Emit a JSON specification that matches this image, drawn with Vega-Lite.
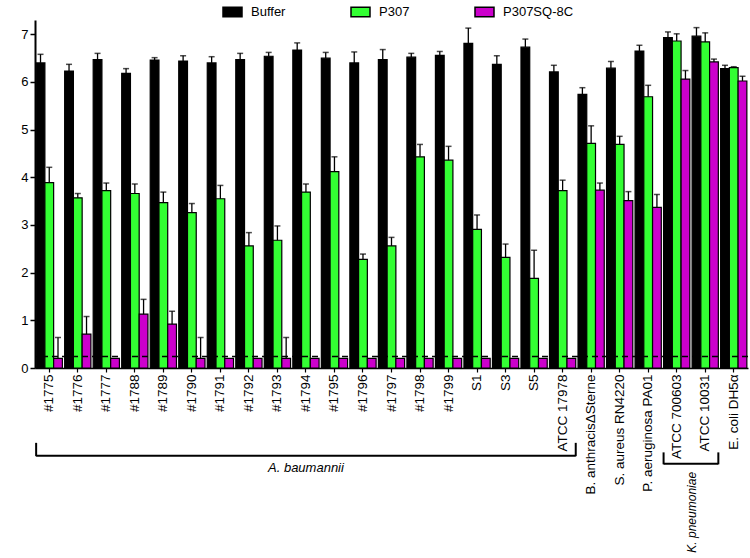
{
  "$schema": "https://vega.github.io/schema/vega-lite/v6.json",
  "width": 713,
  "height": 348,
  "autosize": {"type": "none"},
  "padding": {"left": 35, "top": 20, "right": 2, "bottom": 190},
  "config": {"view": {"stroke": null}, "font": "Liberation Sans"},
  "datasets": {
    "bars": [
      {"strain": "#1775", "group": "Buffer", "value": 6.40, "upper": 6.58},
      {"strain": "#1775", "group": "P307", "value": 3.89, "upper": 4.21},
      {"strain": "#1775", "group": "P307SQ-8C", "value": 0.2, "upper": 0.64},
      {"strain": "#1776", "group": "Buffer", "value": 6.23, "upper": 6.37},
      {"strain": "#1776", "group": "P307", "value": 3.57, "upper": 3.66},
      {"strain": "#1776", "group": "P307SQ-8C", "value": 0.71, "upper": 1.08},
      {"strain": "#1777", "group": "Buffer", "value": 6.47, "upper": 6.60},
      {"strain": "#1777", "group": "P307", "value": 3.72, "upper": 3.88},
      {"strain": "#1777", "group": "P307SQ-8C", "value": 0.2, "upper": null},
      {"strain": "#1788", "group": "Buffer", "value": 6.18, "upper": 6.28},
      {"strain": "#1788", "group": "P307", "value": 3.66, "upper": 3.86},
      {"strain": "#1788", "group": "P307SQ-8C", "value": 1.13, "upper": 1.44},
      {"strain": "#1789", "group": "Buffer", "value": 6.46, "upper": 6.51},
      {"strain": "#1789", "group": "P307", "value": 3.47, "upper": 3.69},
      {"strain": "#1789", "group": "P307SQ-8C", "value": 0.92, "upper": 1.19},
      {"strain": "#1790", "group": "Buffer", "value": 6.44, "upper": 6.55},
      {"strain": "#1790", "group": "P307", "value": 3.26, "upper": 3.45},
      {"strain": "#1790", "group": "P307SQ-8C", "value": 0.2, "upper": 0.64},
      {"strain": "#1791", "group": "Buffer", "value": 6.40, "upper": 6.53},
      {"strain": "#1791", "group": "P307", "value": 3.55, "upper": 3.83},
      {"strain": "#1791", "group": "P307SQ-8C", "value": 0.2, "upper": null},
      {"strain": "#1792", "group": "Buffer", "value": 6.47, "upper": 6.60},
      {"strain": "#1792", "group": "P307", "value": 2.56, "upper": 2.84},
      {"strain": "#1792", "group": "P307SQ-8C", "value": 0.2, "upper": null},
      {"strain": "#1793", "group": "Buffer", "value": 6.54, "upper": 6.62},
      {"strain": "#1793", "group": "P307", "value": 2.68, "upper": 2.98},
      {"strain": "#1793", "group": "P307SQ-8C", "value": 0.2, "upper": 0.64},
      {"strain": "#1794", "group": "Buffer", "value": 6.67, "upper": 6.82},
      {"strain": "#1794", "group": "P307", "value": 3.69, "upper": 3.86},
      {"strain": "#1794", "group": "P307SQ-8C", "value": 0.2, "upper": null},
      {"strain": "#1795", "group": "Buffer", "value": 6.50, "upper": 6.62},
      {"strain": "#1795", "group": "P307", "value": 4.12, "upper": 4.43},
      {"strain": "#1795", "group": "P307SQ-8C", "value": 0.2, "upper": null},
      {"strain": "#1796", "group": "Buffer", "value": 6.40, "upper": 6.63},
      {"strain": "#1796", "group": "P307", "value": 2.28, "upper": 2.39},
      {"strain": "#1796", "group": "P307SQ-8C", "value": 0.2, "upper": null},
      {"strain": "#1797", "group": "Buffer", "value": 6.47, "upper": 6.68},
      {"strain": "#1797", "group": "P307", "value": 2.56, "upper": 2.74},
      {"strain": "#1797", "group": "P307SQ-8C", "value": 0.2, "upper": null},
      {"strain": "#1798", "group": "Buffer", "value": 6.52, "upper": 6.60},
      {"strain": "#1798", "group": "P307", "value": 4.43, "upper": 4.69},
      {"strain": "#1798", "group": "P307SQ-8C", "value": 0.2, "upper": null},
      {"strain": "#1799", "group": "Buffer", "value": 6.56, "upper": 6.64},
      {"strain": "#1799", "group": "P307", "value": 4.36, "upper": 4.65},
      {"strain": "#1799", "group": "P307SQ-8C", "value": 0.2, "upper": null},
      {"strain": "S1", "group": "Buffer", "value": 6.81, "upper": 7.13},
      {"strain": "S1", "group": "P307", "value": 2.91, "upper": 3.21},
      {"strain": "S1", "group": "P307SQ-8C", "value": 0.2, "upper": null},
      {"strain": "S3", "group": "Buffer", "value": 6.37, "upper": 6.55},
      {"strain": "S3", "group": "P307", "value": 2.32, "upper": 2.60},
      {"strain": "S3", "group": "P307SQ-8C", "value": 0.2, "upper": null},
      {"strain": "S5", "group": "Buffer", "value": 6.73, "upper": 6.90},
      {"strain": "S5", "group": "P307", "value": 1.88, "upper": 2.47},
      {"strain": "S5", "group": "P307SQ-8C", "value": 0.2, "upper": null},
      {"strain": "ATCC 17978", "group": "Buffer", "value": 6.21, "upper": 6.35},
      {"strain": "ATCC 17978", "group": "P307", "value": 3.72, "upper": 3.94},
      {"strain": "ATCC 17978", "group": "P307SQ-8C", "value": 0.2, "upper": null},
      {"strain": "B. anthracisΔSterne", "group": "Buffer", "value": 5.74, "upper": 5.88},
      {"strain": "B. anthracisΔSterne", "group": "P307", "value": 4.71, "upper": 5.08},
      {"strain": "B. anthracisΔSterne", "group": "P307SQ-8C", "value": 3.73, "upper": 3.88},
      {"strain": "S. aureus RN4220", "group": "Buffer", "value": 6.29, "upper": 6.43},
      {"strain": "S. aureus RN4220", "group": "P307", "value": 4.69, "upper": 4.86},
      {"strain": "S. aureus RN4220", "group": "P307SQ-8C", "value": 3.51, "upper": 3.70},
      {"strain": "P. aeruginosa PA01", "group": "Buffer", "value": 6.65, "upper": 6.77},
      {"strain": "P. aeruginosa PA01", "group": "P307", "value": 5.69, "upper": 5.93},
      {"strain": "P. aeruginosa PA01", "group": "P307SQ-8C", "value": 3.37, "upper": 3.64},
      {"strain": "ATCC 700603", "group": "Buffer", "value": 6.93, "upper": 7.05},
      {"strain": "ATCC 700603", "group": "P307", "value": 6.86, "upper": 7.01},
      {"strain": "ATCC 700603", "group": "P307SQ-8C", "value": 6.06, "upper": 6.24},
      {"strain": "ATCC 10031", "group": "Buffer", "value": 6.96, "upper": 7.14},
      {"strain": "ATCC 10031", "group": "P307", "value": 6.84, "upper": 7.03},
      {"strain": "ATCC 10031", "group": "P307SQ-8C", "value": 6.42, "upper": 6.48},
      {"strain": "E. coli DH5α", "group": "Buffer", "value": 6.28, "upper": 6.35},
      {"strain": "E. coli DH5α", "group": "P307", "value": 6.30, "upper": 6.32},
      {"strain": "E. coli DH5α", "group": "P307SQ-8C", "value": 6.02, "upper": 6.12}
    ],
    "limit": [{"limit": 0.24}],
    "baumannii": [{"from": "#1775", "to": "ATCC 17978", "label": "A. baumannii", "at": "#1794"}],
    "pneumoniae": [{"from": "ATCC 700603", "to": "ATCC 10031", "label": "K. pneumoniae", "at": "ATCC 10031"}]
  },
  "layer": [
    {
      "data": {"name": "bars"},
      "mark": {"type": "bar", "stroke": "black", "strokeWidth": 1.2},
      "encoding": {
        "x": {
          "field": "strain", "type": "nominal", "title": null,
          "scale": {
            "domain": ["#1775", "#1776", "#1777", "#1788", "#1789", "#1790", "#1791", "#1792", "#1793", "#1794", "#1795", "#1796", "#1797", "#1798", "#1799", "S1", "S3", "S5", "ATCC 17978", "B. anthracisΔSterne", "S. aureus RN4220", "P. aeruginosa PA01", "ATCC 700603", "ATCC 10031", "E. coli DH5α"],
            "paddingInner": 0.08, "paddingOuter": 0.04
          },
          "axis": {"labelAngle": -90, "labelFontSize": 13.5, "labelColor": "black", "tickColor": "black", "domainColor": "black", "domainWidth": 1.5, "tickWidth": 1.2, "tickSize": 4, "labelPadding": 2, "labelLimit": 300}
        },
        "xOffset": {"field": "group", "type": "nominal", "scale": {"domain": ["Buffer", "P307", "P307SQ-8C"]}},
        "y": {
          "field": "value", "type": "quantitative", "title": "log₁₀ (cfu/mL)",
          "scale": {"domain": [0, 7.3], "nice": false, "zero": true},
          "axis": {"values": [0, 1, 2, 3, 4, 5, 6, 7], "grid": false, "tickSize": 5, "tickColor": "black", "tickWidth": 1.5, "domainColor": "black", "domainWidth": 2, "labelFontSize": 13, "labelColor": "black", "labelPadding": 2, "titleFontSize": 12, "titleFontWeight": "normal", "titleColor": "black", "titlePadding": 4}
        },
        "color": {
          "field": "group", "type": "nominal",
          "scale": {"domain": ["Buffer", "P307", "P307SQ-8C"], "range": ["#000000", "#33ff33", "#cc00cc"]},
          "legend": {"orient": "none", "legendX": 187, "legendY": -19, "direction": "horizontal", "columns": 3, "title": null, "symbolType": "M-1,-0.5H1V0.5H-1Z", "symbolSize": 361, "symbolStrokeColor": "black", "symbolStrokeWidth": 1.5, "symbolOpacity": 1, "labelFontSize": 13, "labelColor": "black", "labelOffset": 8, "columnPadding": 62, "padding": 0}
        }
      }
    },
    {
      "data": {"name": "bars"},
      "transform": [{"filter": "datum.upper != null"}],
      "mark": {"type": "rule", "color": "black", "strokeWidth": 1.3},
      "encoding": {
        "x": {"field": "strain", "type": "nominal", "title": null},
        "xOffset": {"field": "group", "type": "nominal"},
        "y": {"field": "value", "type": "quantitative", "title": null},
        "y2": {"field": "upper"}
      }
    },
    {
      "data": {"name": "bars"},
      "transform": [{"filter": "datum.upper != null"}],
      "mark": {"type": "tick", "orient": "horizontal", "color": "black", "thickness": 1.5, "size": 6},
      "encoding": {
        "x": {"field": "strain", "type": "nominal", "title": null},
        "xOffset": {"field": "group", "type": "nominal"},
        "y": {"field": "upper", "type": "quantitative", "title": null}
      }
    },
    {
      "data": {"name": "limit"},
      "mark": {"type": "rule", "color": "black", "strokeWidth": 1.5, "strokeDash": [6, 4]},
      "encoding": {
        "y": {"field": "limit", "type": "quantitative", "title": null}
      }
    },
    {
      "data": {"name": "baumannii"},
      "mark": {"type": "rule", "color": "black", "strokeWidth": 2},
      "encoding": {
        "x": {"field": "from", "type": "nominal", "bandPosition": 0, "title": null},
        "x2": {"field": "to", "bandPosition": 1},
        "y": {"datum": -1.84}
      }
    },
    {
      "data": {"name": "baumannii"},
      "mark": {"type": "rule", "color": "black", "strokeWidth": 2},
      "encoding": {
        "x": {"field": "from", "type": "nominal", "bandPosition": 0, "title": null},
        "y": {"datum": -1.85},
        "y2": {"datum": -1.57}
      }
    },
    {
      "data": {"name": "baumannii"},
      "mark": {"type": "rule", "color": "black", "strokeWidth": 2},
      "encoding": {
        "x": {"field": "to", "type": "nominal", "bandPosition": 1, "title": null},
        "y": {"datum": -1.85},
        "y2": {"datum": -1.57}
      }
    },
    {
      "data": {"name": "baumannii"},
      "mark": {"type": "text", "fontSize": 13, "fontStyle": "italic", "color": "black", "baseline": "middle", "align": "center"},
      "encoding": {
        "x": {"field": "at", "type": "nominal", "title": null},
        "y": {"datum": -2.1},
        "text": {"field": "label"}
      }
    },
    {
      "data": {"name": "pneumoniae"},
      "mark": {"type": "rule", "color": "black", "strokeWidth": 2},
      "encoding": {
        "x": {"field": "from", "type": "nominal", "bandPosition": 0, "title": null},
        "x2": {"field": "to", "bandPosition": 1},
        "y": {"datum": -2.01}
      }
    },
    {
      "data": {"name": "pneumoniae"},
      "mark": {"type": "rule", "color": "black", "strokeWidth": 2},
      "encoding": {
        "x": {"field": "from", "type": "nominal", "bandPosition": 0, "title": null},
        "y": {"datum": -2.02},
        "y2": {"datum": -1.77}
      }
    },
    {
      "data": {"name": "pneumoniae"},
      "mark": {"type": "rule", "color": "black", "strokeWidth": 2},
      "encoding": {
        "x": {"field": "to", "type": "nominal", "bandPosition": 1, "title": null},
        "y": {"datum": -2.02},
        "y2": {"datum": -1.77}
      }
    },
    {
      "data": {"name": "pneumoniae"},
      "mark": {"type": "text", "fontSize": 12, "fontStyle": "italic", "color": "black", "baseline": "middle", "align": "right", "angle": 270},
      "encoding": {
        "x": {"field": "at", "type": "nominal", "bandPosition": 0, "title": null},
        "y": {"datum": -2.18},
        "text": {"field": "label"}
      }
    }
  ]
}
